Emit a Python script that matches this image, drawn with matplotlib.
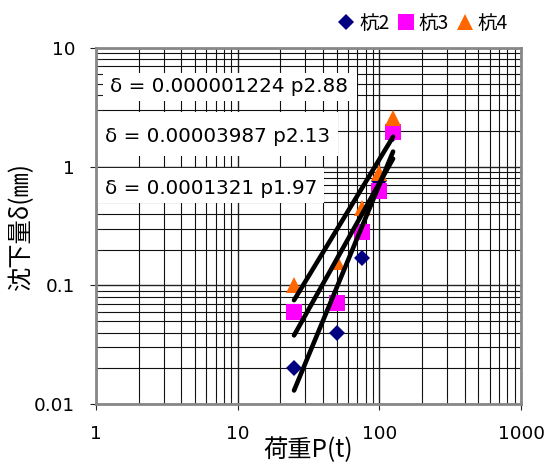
import numpy as np
import matplotlib
matplotlib.use("Agg")
import matplotlib.pyplot as plt
from matplotlib.ticker import LogLocator, FixedLocator, FixedFormatter, NullFormatter
from matplotlib.patches import Rectangle

plt.rcParams["font.family"] = ["DejaVu Sans", "Noto Sans CJK JP"]
CJK = ["Noto Sans CJK JP", "DejaVu Sans"]

# ── DATA ───────────────────────────────────────────────────
load = [25, 50, 75, 100, 125]                 # P (t)
pile2 = [0.020, 0.040, 0.17, 0.76, 1.90]      # 杭2
pile3 = [0.060, 0.071, 0.28, 0.62, 1.97]      # 杭3
pile4 = [0.10, 0.158, 0.45, 0.88, 2.56]       # 杭4

# power trendlines  δ = a p^b
fit_a = [0.000001224, 0.00003987, 0.0001321]
fit_b = [2.88, 2.13, 1.97]
fit_labels = ["0.000001224", "0.00003987", "0.0001321"]
fit_exps = ["2.88", "2.13", "1.97"]

x_ticks = [1, 10, 100, 1000]
y_ticks = [0.01, 0.1, 1, 10]

# ── FIGURE ─────────────────────────────────────────────────
W, H = 556, 466
fig = plt.figure(figsize=(W / 100, H / 100), dpi=100)
L, R, T, B = 96, 521, 48, 404
ax = fig.add_axes([L / W, 1 - B / H, (R - L) / W, (B - T) / H])

ax.set_xscale("log")
ax.set_yscale("log")
ax.set_xlim(1, 1000)
ax.set_ylim(0.01, 10)

ax.xaxis.set_major_locator(FixedLocator(x_ticks))
ax.xaxis.set_major_formatter(FixedFormatter([str(v) for v in x_ticks]))
ax.yaxis.set_major_locator(FixedLocator(y_ticks))
ax.yaxis.set_major_formatter(FixedFormatter(["0.01", "0.1", "1", "10"]))
ax.xaxis.set_minor_locator(LogLocator(base=10, subs=np.arange(2, 10)))
ax.yaxis.set_minor_locator(LogLocator(base=10, subs=np.arange(2, 10)))
ax.xaxis.set_minor_formatter(NullFormatter())
ax.yaxis.set_minor_formatter(NullFormatter())

ax.grid(which="major", color="#222222", lw=1.0, zorder=0)
ax.grid(which="minor", color="#111111", lw=0.8, zorder=0)
ax.set_axisbelow(True)

for s in ax.spines.values():
    s.set_color("#888888")
    s.set_linewidth(2)
ax.tick_params(which="major", length=4, direction="out", color="#222222",
               labelsize=13.3, pad=11)
ax.tick_params(which="minor", length=4, direction="in", color="#222222")

ax.set_xlabel("荷重P(t)", fontsize=17.5, labelpad=-4, family=CJK)
ax.set_ylabel("沈下量δ(㎜)", fontsize=17.5, labelpad=0, family=CJK)

# ── MARKERS ────────────────────────────────────────────────
ax.plot(load, pile2, "D", color="#000080", ms=7.8, mew=0, label="杭2", zorder=3)
ax.plot(load, pile3, "s", color="#FF00FF", ms=11, mew=0, label="杭3", zorder=3)
ax.plot(load, pile4, "^", color="#FF6600", ms=11, mew=0, label="杭4", zorder=3)

# ── TRENDLINES ─────────────────────────────────────────────
p = np.linspace(min(load), max(load), 50)
for a, b in zip(fit_a, fit_b):
    ax.plot(p, a * p ** b, color="black", lw=3.3, solid_capstyle="round", zorder=4)

# ── EQUATION BOXES ─────────────────────────────────────────
def px_to_ax(x, y):
    return (x - L) / (R - L), (B - y) / (B - T)

boxes = [(103, 73, 357, 101), (97, 112, 338, 156), (97, 168, 324, 203)]
text_pos = [(110, 86), (105, 137), (105, 189)]
for (x0, y0, x1, y1), (tx, ty), c, e in zip(boxes, text_pos, fit_labels, fit_exps):
    ax0, ay1 = px_to_ax(x0, y0)
    ax1, ay0 = px_to_ax(x1, y1)
    ax.add_patch(Rectangle((ax0, ay0), ax1 - ax0, ay1 - ay0, transform=ax.transAxes,
                           facecolor="white", edgecolor="none", zorder=2.5))
    txx, tyy = px_to_ax(tx, ty)
    ax.text(txx, tyy, f"δ = {c} p{e}", transform=ax.transAxes, fontsize=14.3,
            ha="left", va="center", zorder=2.6)

# ── LEGEND ─────────────────────────────────────────────────
fig.legend(loc="upper right", bbox_to_anchor=(516 / W, 1 - 5 / H), ncol=3,
           frameon=False, handlelength=0.7, handletextpad=0.3,
           columnspacing=0.5, borderaxespad=0, prop={"family": CJK, "size": 14})

fig.savefig("out.png", dpi=100)
